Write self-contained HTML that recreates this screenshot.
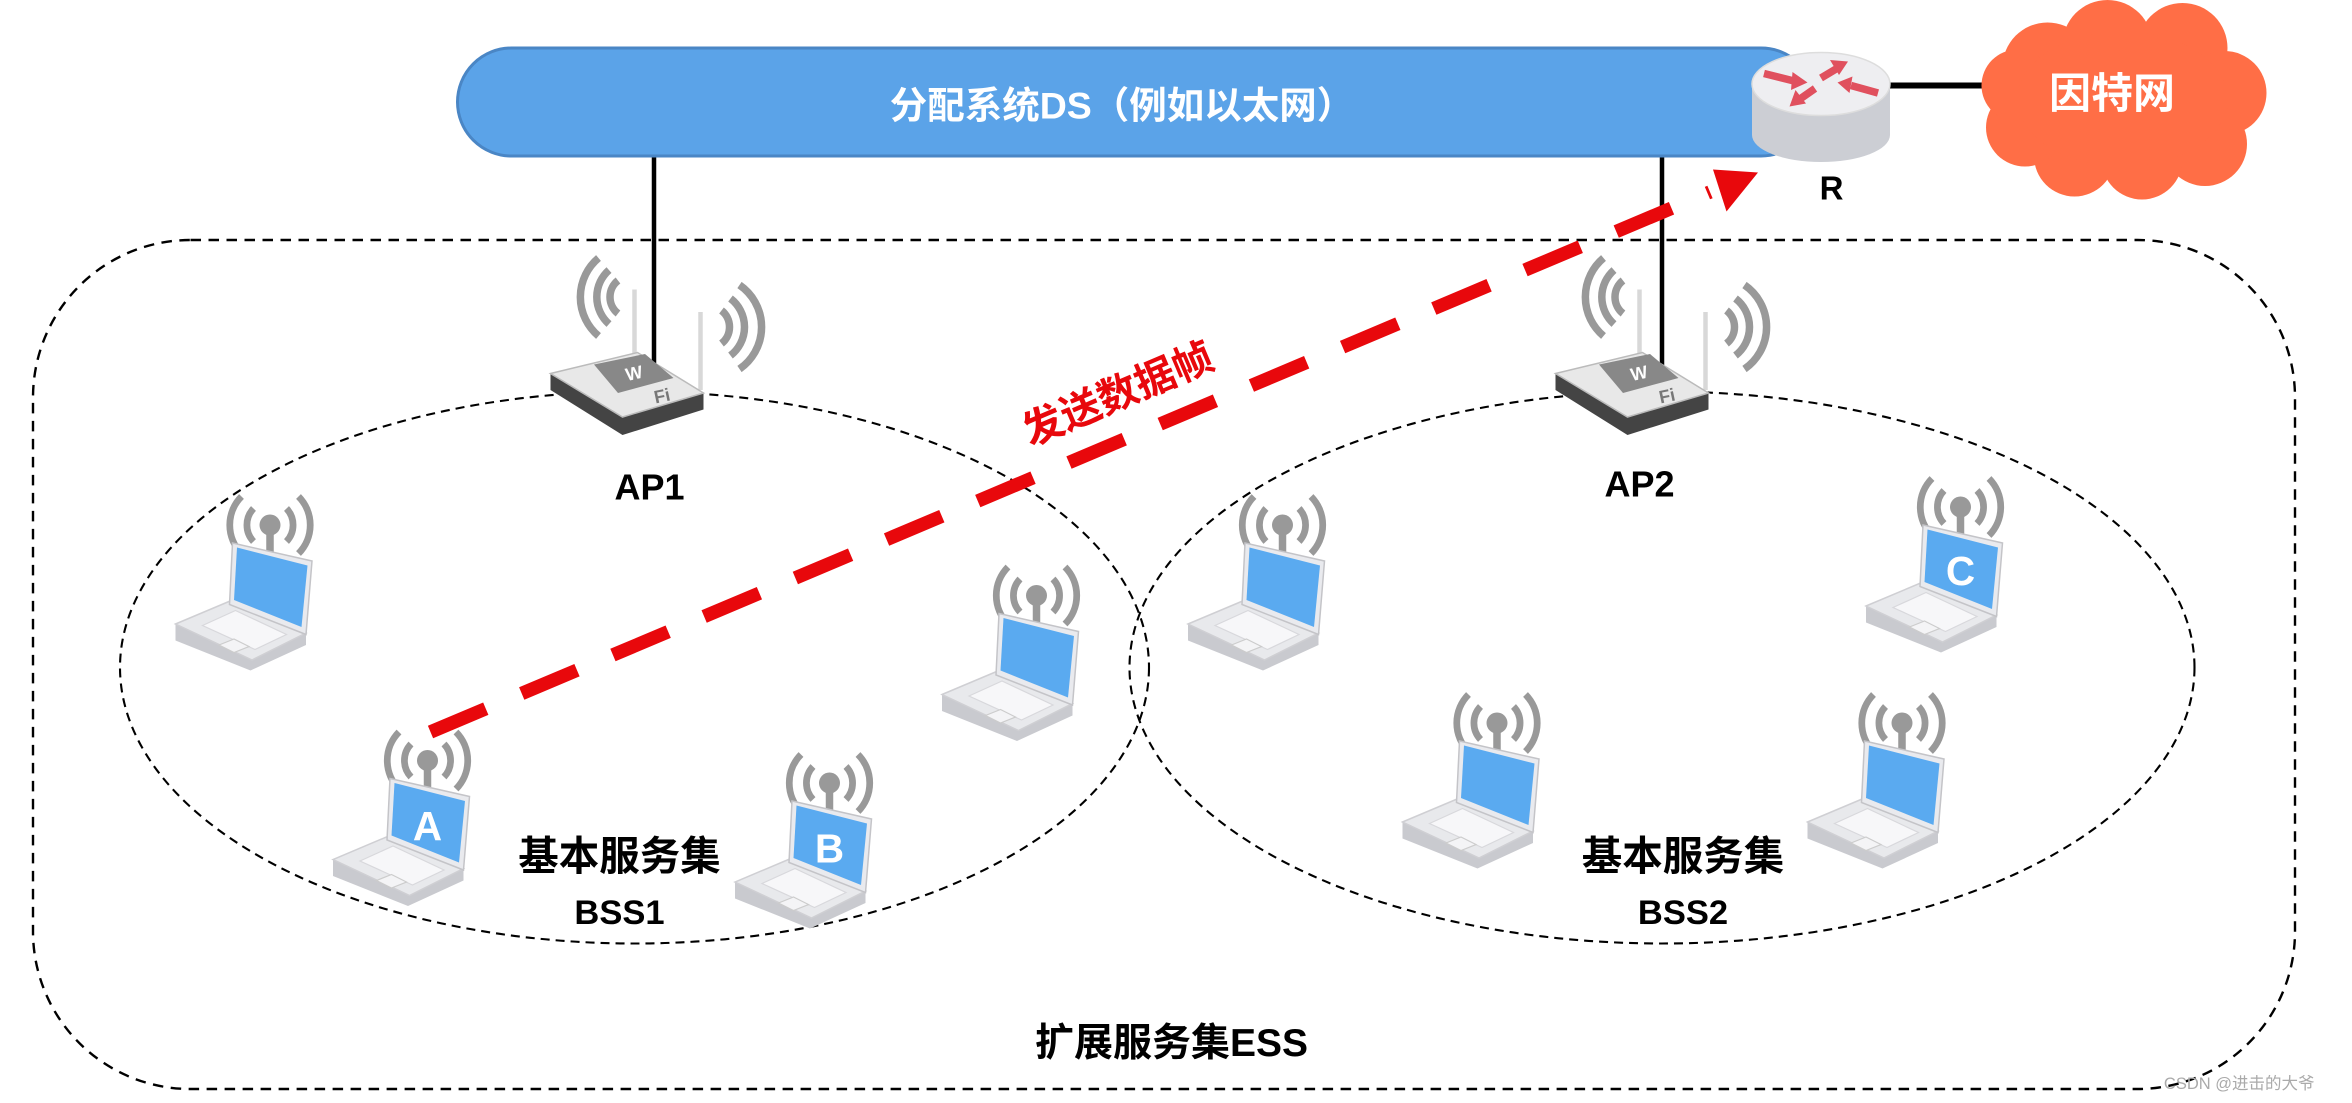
<!DOCTYPE html>
<html><head><meta charset="utf-8"><style>
html,body{margin:0;padding:0;background:#fff;}
svg{display:block;}
text{font-family:"Liberation Sans","Noto Sans CJK SC",sans-serif;font-weight:bold;}
</style></head><body>
<svg width="2352" height="1103" viewBox="0 0 1568 735.33" preserveAspectRatio="none" xmlns="http://www.w3.org/2000/svg">
<defs>
<g id="lap">
  <path d="M-11,-11 A16,16 0 0 0 -11,11 M11,-11 A16,16 0 0 1 11,11" fill="none" stroke="#999" stroke-width="4.5"/>
  <path d="M-19,-19 A27,27 0 0 0 -19,19 M19,-19 A27,27 0 0 1 19,19" fill="none" stroke="#999" stroke-width="4.5"/>
  <circle cx="0" cy="0" r="7" fill="#999"/>
  <rect x="-2.5" y="0" width="5" height="18" fill="#999"/>
  <polygon points="-63,66 -12,90 24,72 24,80 -13,97 -63,77" fill="#c9cacf"/>
  <polygon points="-63,66 -25,50 24,72 -12,90" fill="#e8e9ec" stroke="#cfcfd3" stroke-width="1"/>
  <polygon points="-45,67 -23,57 11,73 -10,83" fill="#f7f7f9" stroke="#d8d8dc" stroke-width="0.8"/>
  <polygon points="-34,80 -24,76 -14,81 -24,85" fill="#f4f4f6" stroke="#ccc" stroke-width="0.8"/>
  <polygon points="-25,12 28,24 24,73 -27,53" fill="#e9eaee" stroke="#c4c4c8" stroke-width="1"/>
  <polygon points="-22,15 25,27 21,68 -24,50" fill="#5aaaf0"/>
</g>
<g id="ap">
  <path d="M423,193 L423,240 M467,208 L467,260" stroke="#d8d8d8" stroke-width="3"/>
  <path d="M412,187 A14,14 0 0 0 412,209 M406,180 A24,24 0 0 0 406,216 M399,172 A34,34 0 0 0 399,224" fill="none" stroke="#999" stroke-width="5"/>
  <path d="M481,207 A14,14 0 0 1 481,229 M487,199 A24,24 0 0 1 487,237 M493,190 A34,34 0 0 1 493,246" fill="none" stroke="#999" stroke-width="5"/>
  <polygon points="367,249 367,260 415,290 469,273 469,262 415,278" fill="#444"/>
  <polygon points="367,249 425,235 469,262 415,278" fill="#e8e8e8" stroke="#bbb"/>
  <polygon points="396,243 430,236 449,252 412,262" fill="#888"/>
  <text x="418" y="254" font-size="12" fill="#fff" transform="rotate(-12 418 254)">W</text>
  <text x="437" y="269" font-size="12" fill="#777" transform="rotate(-12 437 269)">Fi</text>
</g>
</defs>

<rect x="22" y="160" width="1508" height="566" rx="105" ry="105" fill="none" stroke="#000" stroke-width="1.6" stroke-dasharray="7,5"/>
<ellipse cx="423" cy="445" rx="343" ry="184" fill="none" stroke="#000" stroke-width="1.4" stroke-dasharray="6,4"/>
<ellipse cx="1108" cy="445" rx="355" ry="184" fill="none" stroke="#000" stroke-width="1.4" stroke-dasharray="6,4"/>

<line x1="436" y1="104" x2="436" y2="250" stroke="#000" stroke-width="3"/>
<line x1="1108" y1="104" x2="1108" y2="250" stroke="#000" stroke-width="3"/>
<line x1="1258" y1="57" x2="1325" y2="57" stroke="#000" stroke-width="4"/>

<rect x="305" y="32" width="905" height="72" rx="36" fill="#5ba3e8" stroke="#4a86c5" stroke-width="2"/>
<text x="748" y="79" font-size="25" fill="#fff" text-anchor="middle">分配系统DS（例如以太网）</text>

<path d="M1168,56 L1168,90 A46,18 0 0 0 1260,90 L1260,56 Z" fill="#ccced4"/>
<ellipse cx="1214" cy="56" rx="46" ry="21" fill="#eeeef1" stroke="#ddd"/>
<g stroke="#e0505e" stroke-width="5" fill="#e0505e">
  <line x1="1176" y1="49" x2="1196" y2="54"/><polygon points="1195,48 1205,55 1194,60" stroke="none"/>
  <line x1="1252" y1="62" x2="1234" y2="57"/><polygon points="1235,51 1225,55 1233,62" stroke="none"/>
  <line x1="1214" y1="52" x2="1224" y2="46"/><polygon points="1220,40 1232,41 1226,50" stroke="none"/>
  <line x1="1210" y1="59" x2="1200" y2="66"/><polygon points="1197,60 1193,71 1204,69" stroke="none"/>
</g>
<text x="1221" y="133" font-size="22" fill="#000" text-anchor="middle">R</text>

<g fill="#ff6e46">
  <circle cx="1365" cy="45" r="30"/><circle cx="1405" cy="30" r="30"/><circle cx="1455" cy="32" r="30"/>
  <circle cx="1483" cy="62" r="28"/><circle cx="1470" cy="96" r="28"/><circle cx="1428" cy="106" r="27"/>
  <circle cx="1383" cy="104" r="27"/><circle cx="1350" cy="85" r="26"/><circle cx="1345" cy="57" r="24"/>
  <ellipse cx="1415" cy="66" rx="70" ry="45"/>
</g>
<text x="1408" y="72" font-size="28" fill="#fff" text-anchor="middle">因特网</text>

<use href="#ap"/>
<use href="#ap" transform="translate(670,0)"/>
<text x="433" y="333" font-size="24" fill="#000" text-anchor="middle">AP1</text>
<text x="1093" y="331" font-size="24" fill="#000" text-anchor="middle">AP2</text>

<use href="#lap" transform="translate(180,350)"/>
<use href="#lap" transform="translate(691,397)"/>
<use href="#lap" transform="translate(285,507)"/>
<use href="#lap" transform="translate(553,522)"/>
<use href="#lap" transform="translate(855,350)"/>
<use href="#lap" transform="translate(1307,338)"/>
<use href="#lap" transform="translate(998,482)"/>
<use href="#lap" transform="translate(1268,482)"/>
<text x="285" y="560" font-size="27" fill="#fff" text-anchor="middle">A</text>
<text x="553" y="575" font-size="27" fill="#fff" text-anchor="middle">B</text>
<text x="1307" y="390" font-size="27" fill="#fff" text-anchor="middle">C</text>

<line x1="287" y1="488" x2="1140" y2="128" stroke="#e8080c" stroke-width="9" stroke-dasharray="40,26"/>
<polygon points="1142,113 1172,115 1151,141" fill="#e8080c"/>
<text x="745" y="272" font-size="27" fill="#e8080c" text-anchor="middle" transform="rotate(-23 745 262)">发送数据帧</text>

<text x="413" y="580" font-size="27" fill="#000" text-anchor="middle">基本服务集</text>
<text x="413" y="616" font-size="23" fill="#000" text-anchor="middle">BSS1</text>
<text x="1122" y="580" font-size="27" fill="#000" text-anchor="middle">基本服务集</text>
<text x="1122" y="616" font-size="23" fill="#000" text-anchor="middle">BSS2</text>
<text x="781" y="704" font-size="26" fill="#000" text-anchor="middle">扩展服务集ESS</text>
<text x="1543" y="726" font-size="11" fill="#aaa" text-anchor="end" style="font-weight:normal">CSDN @进击的大爷</text>
</svg>
</body></html>
